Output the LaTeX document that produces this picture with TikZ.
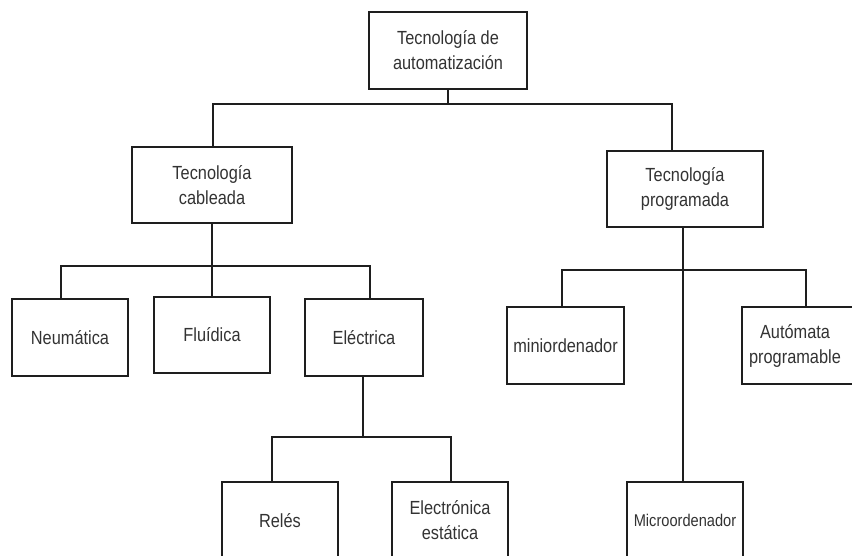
\documentclass[tikz,border=0pt]{standalone}
\usepackage{fontspec}
\setmainfont{Liberation Sans}[FakeStretch=0.86]
\begin{document}
\begin{tikzpicture}[x=1pt,y=-1pt,
  box/.style={draw=linecol, line width=1.7pt, fill=white, text=textcol,
    minimum width=116pt, minimum height=77pt, align=center, inner sep=2pt,
    font=\fontsize{19}{25}\selectfont},
  link/.style={draw=linecol, line width=1.7pt, line cap=rect}]
\definecolor{linecol}{HTML}{1E1E1E}
\definecolor{textcol}{HTML}{333333}
\useasboundingbox (0,0) rectangle (852,556);
\clip (0,0) rectangle (852,556);

% root and second level
\node[box, minimum width=158pt] (root) at (448,50.5) {Tecnología de\\automatización};
\node[box, minimum width=160pt, minimum height=76pt] (cab) at (212,185) {Tecnología\\cableada};
\node[box, minimum width=156pt, minimum height=76pt] (prog) at (685,189) {Tecnología\\programada};

% wired technologies
\node[box] (neu) at (70,337.5) {Neumática};
\node[box, minimum height=76pt] (flu) at (212,335) {Fluídica};
\node[box, minimum width=118pt] (ele) at (364,337.5) {Eléctrica};
\node[box] (rel) at (280,520.5) {Relés};
\node[box] (est) at (450,520.5) {Electrónica\\estática};

% programmed technologies
\node[box, minimum width=117pt] (mini) at (565.5,345.5) {miniordenador};
\node[box] (aut) at (800,345.5) {\hspace*{-10pt}Autómata\\\hspace*{-10pt}programable};
\node[box, font=\fontsize{17}{22}\selectfont] (micro) at (685,520.5) {Microordenador};

% junction points
\coordinate (r1) at (213,104);
\coordinate (r2) at (672,104);
\coordinate (c1) at (61,266);
\coordinate (c2) at (370,266);
\coordinate (e1) at (272,437);
\coordinate (e2) at (451,437);
\coordinate (p0) at (683,270);
\coordinate (p1) at (562,270);
\coordinate (p2) at (806,270);

% connectors
\draw[link] (root.south) -- (root.south |- r1);
\draw[link] (cab.north -| r1) -- (r1) -- (r2) -- (prog.north -| r2);

\draw[link] (cab.south) -- (cab.south |- c1);
\draw[link] (neu.north -| c1) -- (c1) -- (c2) -- (ele.north -| c2);
\draw[link] (cab.south |- c1) -- (flu.north);

\draw[link] (ele.south -| 363,0) -- (363,437);
\draw[link] (rel.north -| e1) -- (e1) -- (e2) -- (est.north -| e2);

\draw[link] (prog.south -| p0) -- (micro.north -| p0);
\draw[link] (mini.north -| p1) -- (p1) -- (p2) -- (aut.north -| p2);
\end{tikzpicture}
\end{document}
